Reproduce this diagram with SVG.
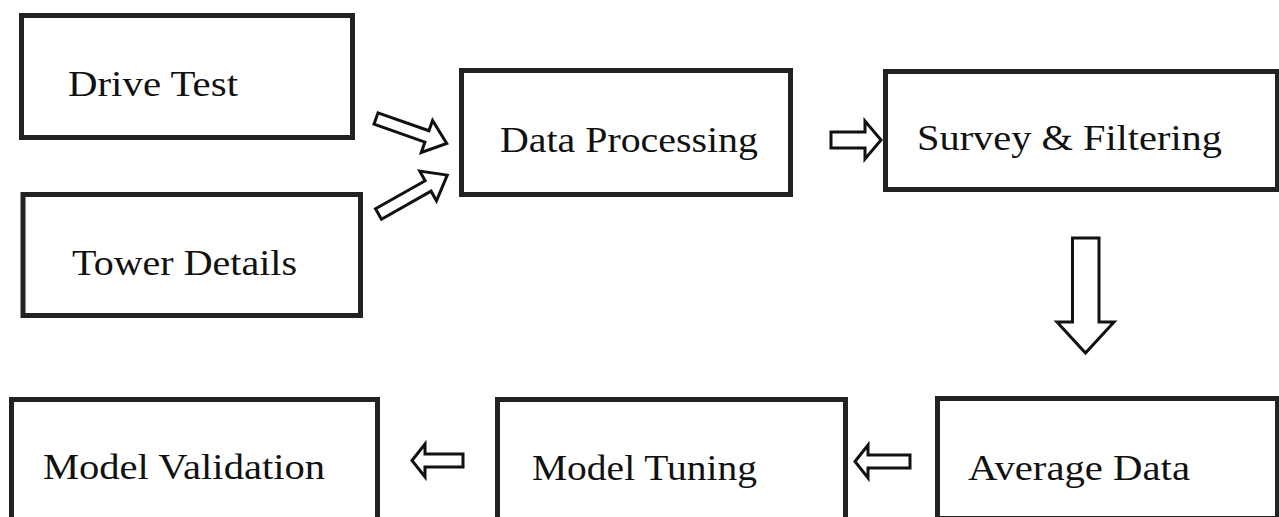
<svg xmlns="http://www.w3.org/2000/svg" width="1279" height="517" viewBox="0 0 1279 517">
<style>
.box{fill:#fff;stroke:#222;stroke-width:5}
.lbl{font-family:"Liberation Serif","Times New Roman",serif;font-size:36px;fill:#111}
.arr{fill:#fff;stroke:#111;stroke-width:3;stroke-linejoin:miter}
</style>
<rect width="1279" height="517" fill="#fff"/>
<g id="node-drive-test">
<rect class="box" x="21.5" y="15.5" width="331" height="122"/>
<text class="lbl" x="68" y="96" textLength="170" lengthAdjust="spacingAndGlyphs">Drive Test</text>
</g>
<g id="node-tower-details">
<rect class="box" x="23" y="194.5" width="337.5" height="121"/>
<text class="lbl" x="72" y="275" textLength="225" lengthAdjust="spacingAndGlyphs">Tower Details</text>
</g>
<g id="node-data-processing">
<rect class="box" x="461.5" y="70.5" width="329" height="124"/>
<text class="lbl" x="500" y="152" textLength="258" lengthAdjust="spacingAndGlyphs">Data Processing</text>
</g>
<g id="node-survey-filtering">
<rect class="box" x="885.5" y="71.5" width="392" height="118"/>
<text class="lbl" x="917" y="150" textLength="305" lengthAdjust="spacingAndGlyphs">Survey &amp; Filtering</text>
</g>
<g id="node-average-data">
<rect class="box" x="937.5" y="398.5" width="340" height="120"/>
<text class="lbl" x="968" y="480" textLength="222" lengthAdjust="spacingAndGlyphs">Average Data</text>
</g>
<g id="node-model-tuning">
<rect class="box" x="497.5" y="399.5" width="348" height="120"/>
<text class="lbl" x="532" y="480" textLength="225" lengthAdjust="spacingAndGlyphs">Model Tuning</text>
</g>
<g id="node-model-validation">
<rect class="box" x="11.5" y="399.5" width="366" height="120"/>
<text class="lbl" x="43" y="479" textLength="282" lengthAdjust="spacingAndGlyphs">Model Validation</text>
</g>
<g id="connectors">
<path class="arr" transform="translate(376,118.5) rotate(19.4)" d="M0,-6 L54,-6 L54,-17 L75,0 L54,17 L54,6 L0,6 Z"/>
<path class="arr" transform="translate(378.5,214) rotate(-29.5)" d="M0,-6 L57,-6 L57,-17 L79,0 L57,17 L57,6 L0,6 Z"/>
<path class="arr" d="M831,132 L865,132 L865,121 L881,140 L865,159 L865,148 L831,148 Z"/>
<path class="arr" d="M1072.5,238 L1099,238 L1099,322 L1114,322 L1085.5,353 L1057,322 L1072.5,322 Z"/>
<path class="arr" d="M855,461.5 L868,445 L868,455 L910,455 L910,468 L868,468 L868,478 Z"/>
<path class="arr" d="M412,460.5 L425,444 L425,454 L463,454 L463,467 L425,467 L425,477 Z"/>
</g>
</svg>
